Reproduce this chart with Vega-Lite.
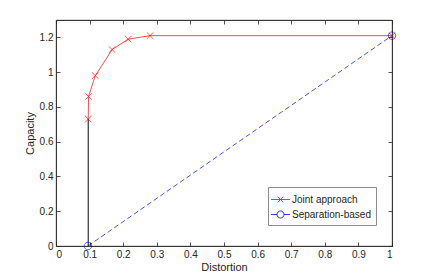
{
  "$schema": "https://vega.github.io/schema/vega-lite/v6.json",
  "width": 336,
  "height": 226,
  "autosize": {"type": "none"},
  "padding": {"left": 56, "top": 20, "right": 40, "bottom": 31},
  "background": "white",
  "config": {
    "font": "Liberation Sans",
    "view": {"stroke": "#262626", "strokeWidth": 0.8},
    "axis": {
      "domainColor": "#262626",
      "domainWidth": 0.8,
      "tickColor": "#262626",
      "tickWidth": 0.8,
      "labelColor": "#262626",
      "titleColor": "#262626",
      "labelFontSize": 10,
      "titleFontSize": 11,
      "titleFontWeight": "normal",
      "grid": false,
      "tickSize": -4,
      "labelPadding": 7
    }
  },
  "data": {
    "values": [
      {"series": "Joint approach", "x": 0.096, "y": 0.73, "o": 1},
      {"series": "Joint approach", "x": 0.097, "y": 0.86, "o": 2},
      {"series": "Joint approach", "x": 0.117, "y": 0.98, "o": 3},
      {"series": "Joint approach", "x": 0.167, "y": 1.13, "o": 4},
      {"series": "Joint approach", "x": 0.215, "y": 1.19, "o": 5},
      {"series": "Joint approach", "x": 0.28, "y": 1.21, "o": 6},
      {"series": "Joint approach", "x": 1.0, "y": 1.21, "o": 7},
      {"series": "Separation-based", "x": 0.095, "y": 0.0, "o": 1},
      {"series": "Separation-based", "x": 1.0, "y": 1.21, "o": 2},
      {"series": "vertical", "x": 0.096, "y": 0.0, "o": 1},
      {"series": "vertical", "x": 0.096, "y": 0.73, "o": 2}
    ]
  },
  "layer": [
    {
      "transform": [{"filter": "datum.series === 'Joint approach'"}],
      "mark": {"type": "line", "stroke": "#ff0000", "strokeWidth": 0.7},
      "encoding": {
        "x": {"field": "x", "type": "quantitative", "scale": {"domain": [0, 1], "nice": false},
          "axis": {"orient": "bottom", "values": [0,0.1,0.2,0.3,0.4,0.5,0.6,0.7,0.8,0.9,1], "format": "~g", "title": "Distortion", "titlePadding": 2}},
        "y": {"field": "y", "type": "quantitative", "scale": {"domain": [0, 1.3], "nice": false},
          "axis": {"orient": "left", "values": [0,0.2,0.4,0.6,0.8,1,1.2], "format": "~g", "title": "Capacity", "titlePadding": 4}},
        "order": {"field": "o"}
      }
    },
    {
      "transform": [{"filter": "datum.series === 'Separation-based'"}],
      "mark": {"type": "line", "stroke": "#0000ff", "strokeWidth": 0.7, "strokeDash": [5, 3]},
      "encoding": {
        "x": {"field": "x", "type": "quantitative",
          "axis": {"orient": "top", "values": [0,0.1,0.2,0.3,0.4,0.5,0.6,0.7,0.8,0.9,1], "labels": false, "title": null}},
        "y": {"field": "y", "type": "quantitative",
          "axis": {"orient": "right", "values": [0,0.2,0.4,0.6,0.8,1,1.2], "labels": false, "title": null}},
        "order": {"field": "o"}
      }
    },
    {
      "transform": [{"filter": "datum.series === 'vertical'"}],
      "mark": {"type": "line", "stroke": "#333333", "strokeWidth": 1.2},
      "encoding": {
        "x": {"field": "x", "type": "quantitative", "axis": null},
        "y": {"field": "y", "type": "quantitative", "axis": null},
        "order": {"field": "o"}
      }
    },
    {
      "transform": [{"filter": "datum.series === 'Joint approach'"}],
      "mark": {"type": "point", "filled": false, "strokeWidth": 0.9, "color": "#ff0000", "shape": "M-1,-1L1,1M-1,1L1,-1", "size": 44},
      "encoding": {
        "x": {"field": "x", "type": "quantitative", "axis": null},
        "y": {"field": "y", "type": "quantitative", "axis": null}
      }
    },
    {
      "transform": [{"filter": "datum.series === 'Separation-based'"}],
      "mark": {"type": "point", "filled": false, "strokeWidth": 0.9, "color": "#0000ff", "shape": "M1,0A1,1 0 1 1 -1,0A1,1 0 1 1 1,0", "size": 56},
      "encoding": {
        "x": {"field": "x", "type": "quantitative", "axis": null},
        "y": {"field": "y", "type": "quantitative", "axis": null}
      }
    },
    {
      "transform": [{"filter": "datum.series !== 'vertical'"}],
      "mark": {"type": "point", "filled": false, "opacity": 0, "strokeWidth": 0.8, "size": 196},
      "encoding": {
        "x": {"field": "x", "type": "quantitative", "axis": null},
        "y": {"field": "y", "type": "quantitative", "axis": null},
        "color": {
          "field": "series", "type": "nominal",
          "scale": {"domain": ["Joint approach", "Separation-based"], "range": ["#ff0000", "#0000ff"]},
          "legend": {
            "title": null,
            "orient": "none",
            "legendX": 212,
            "legendY": 167,
            "fillColor": "white",
            "strokeColor": "#8c8c8c",
            "padding": 5,
            "rowPadding": 2,
            "symbolSize": 196,
            "symbolStrokeWidth": 0.8,
            "labelOffset": 4,
            "labelFontSize": 10,
            "labelColor": "#262626",
            "encode": {
              "symbols": {
                "update": {
                  "opacity": {"value": 1},
                  "fill": {"value": "transparent"}
                }
              }
            }
          }
        },
        "shape": {
          "field": "series", "type": "nominal",
          "scale": {"domain": ["Joint approach", "Separation-based"], "range": [
            "M-1.35,0L1.35,0M-0.4,-0.4L0.4,0.4M-0.4,0.4L0.4,-0.4",
            "M-1.35,0L-0.5,0M0.5,0L1.35,0M0.5,0A0.5,0.5 0 1 1 -0.5,0A0.5,0.5 0 1 1 0.5,0"
          ]},
          "legend": {
            "title": null,
            "orient": "none",
            "legendX": 212,
            "legendY": 167,
            "fillColor": "white",
            "strokeColor": "#8c8c8c",
            "padding": 5,
            "rowPadding": 2,
            "symbolSize": 196,
            "symbolStrokeWidth": 0.8,
            "labelOffset": 4,
            "labelFontSize": 10,
            "labelColor": "#262626",
            "encode": {
              "symbols": {
                "update": {
                  "opacity": {"value": 1},
                  "fill": {"value": "transparent"}
                }
              }
            }
          }
        }
      }
    }
  ],
  "resolve": {"axis": {"x": "independent", "y": "independent"}}
}
